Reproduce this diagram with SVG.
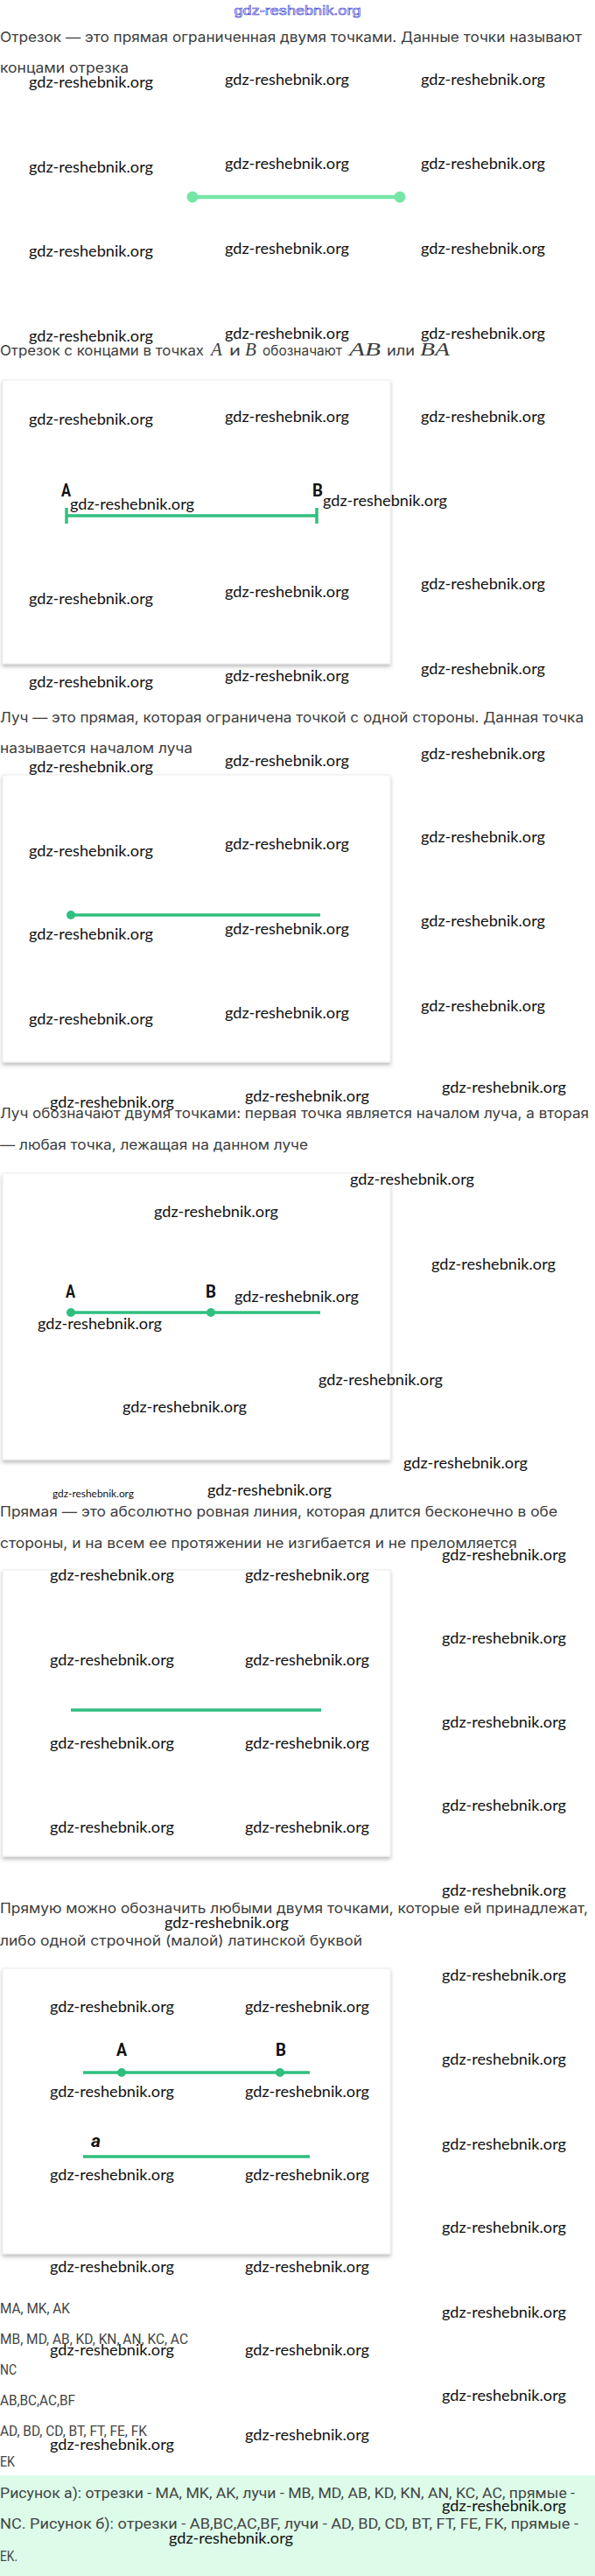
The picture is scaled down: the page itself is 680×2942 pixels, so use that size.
<svg xmlns="http://www.w3.org/2000/svg" width="680" height="2942" viewBox="0 0 680 2942">
<style>
.t{font-family:Inter,"Noto Sans",sans-serif;font-size:16px;fill:#3c3c3c}
.m{font-family:"Liberation Serif",serif;font-style:italic;font-size:21px;fill:#3c3c3c}
.wm{font-family:Lato,"Open Sans",sans-serif;font-size:18px;fill:#111}
.wms{font-family:Lato,"Open Sans",sans-serif;font-size:12px;fill:#111}
.c{font-family:Roboto,"Liberation Sans",sans-serif;font-size:17px;fill:#444}
.lbl{font-family:Roboto,"Liberation Sans",sans-serif;font-weight:700;font-size:21px;fill:#111}
.box{fill:#fff;stroke:#ececec;stroke-width:1}
.g{stroke:#2fbf7f;stroke-width:3.5;fill:none;stroke-linecap:butt}
.gd{fill:#2fbf7f}
.lg{stroke:#76e6a6;stroke-width:4.5;fill:none}
.lgd{fill:#76e6a6}
</style>
<defs>
<filter id="sh" x="-5%" y="-5%" width="110%" height="115%">
<feDropShadow dx="0" dy="3" stdDeviation="2" flood-color="#000" flood-opacity="0.25"/>
</filter>
</defs>
<rect width="680" height="2942" fill="#fff"/>

<text x="340" y="17" text-anchor="middle" font-family="'Liberation Sans',sans-serif" font-size="15" fill="#eeeeff" stroke="#3434d0" stroke-width="0.55" textLength="145" lengthAdjust="spacingAndGlyphs">gdz-reshebnik.org</text>

<g id="text-blocks">
<text class="t" x="0" y="48" textLength="665" lengthAdjust="spacingAndGlyphs">Отрезок — это прямая ограниченная двумя точками. Данные точки называют</text>
<text class="t" x="0" y="83" textLength="147" lengthAdjust="spacingAndGlyphs">концами отрезка</text>
<text class="t" x="0" y="406"><tspan textLength="233" lengthAdjust="spacingAndGlyphs">Отрезок с концами в точках</tspan><tspan class="m" x="241">A</tspan><tspan x="262" textLength="13" lengthAdjust="spacingAndGlyphs">и</tspan><tspan class="m" x="280">B</tspan><tspan x="300" textLength="91" lengthAdjust="spacingAndGlyphs">обозначают</tspan><tspan class="m" x="399" textLength="36" lengthAdjust="spacingAndGlyphs">AB</tspan><tspan x="442" textLength="32" lengthAdjust="spacingAndGlyphs">или</tspan><tspan class="m" x="480" textLength="34" lengthAdjust="spacingAndGlyphs">BA</tspan></text>
<text class="t" x="0" y="825" textLength="667" lengthAdjust="spacingAndGlyphs">Луч — это прямая, которая ограничена точкой с одной стороны. Данная точка</text>
<text class="t" x="0" y="860" textLength="220" lengthAdjust="spacingAndGlyphs">называется началом луча</text>
<text class="t" x="0" y="1277" textLength="673" lengthAdjust="spacingAndGlyphs">Луч обозначают двумя точками: первая точка является началом луча, а вторая</text>
<text class="t" x="0" y="1313" textLength="352" lengthAdjust="spacingAndGlyphs">— любая точка, лежащая на данном луче</text>
<text class="t" x="0" y="1732" textLength="637" lengthAdjust="spacingAndGlyphs">Прямая — это абсолютно ровная линия, которая длится бесконечно в обе</text>
<text class="t" x="0" y="1768" textLength="591" lengthAdjust="spacingAndGlyphs">стороны, и на всем ее протяжении не изгибается и не преломляется</text>
<text class="t" x="0" y="2185" textLength="672" lengthAdjust="spacingAndGlyphs">Прямую можно обозначить любыми двумя точками, которые ей принадлежат,</text>
<text class="t" x="0" y="2222" textLength="414" lengthAdjust="spacingAndGlyphs">либо одной строчной (малой) латинской буквой</text>
</g>

<g id="fig-segment">
<line class="lg" x1="220" y1="225" x2="457" y2="225"/>
<circle class="lgd" cx="220" cy="225" r="6.5"/>
<circle class="lgd" cx="457" cy="225" r="6.5"/>
</g>

<g id="fig-segment-ab">
<rect class="box" x="3" y="434" width="443" height="324" filter="url(#sh)"/>
<line class="g" x1="76" y1="589" x2="362" y2="589"/>
<line class="g" x1="76" y1="580" x2="76" y2="598" stroke-width="3"/>
<line class="g" x1="362" y1="580" x2="362" y2="598" stroke-width="3"/>
<text class="lbl" x="70" y="567" textLength="11" lengthAdjust="spacingAndGlyphs">A</text>
<text class="lbl" x="357" y="567" textLength="12" lengthAdjust="spacingAndGlyphs">B</text>
</g>

<g id="fig-ray">
<rect class="box" x="3" y="885" width="443" height="328" filter="url(#sh)"/>
<line class="g" x1="81" y1="1045" x2="366" y2="1045"/>
<circle class="gd" cx="81" cy="1045" r="5"/>
</g>

<g id="fig-ray-ab">
<rect class="box" x="3" y="1340" width="443" height="327" filter="url(#sh)"/>
<line class="g" x1="81" y1="1499" x2="366" y2="1499"/>
<circle class="gd" cx="81" cy="1499" r="5"/>
<circle class="gd" cx="241" cy="1499" r="5"/>
<text class="lbl" x="75" y="1482" textLength="11" lengthAdjust="spacingAndGlyphs">A</text>
<text class="lbl" x="235" y="1482" textLength="12" lengthAdjust="spacingAndGlyphs">B</text>
</g>

<g id="fig-line">
<rect class="box" x="3" y="1793" width="443" height="327" filter="url(#sh)"/>
<line class="g" x1="81" y1="1953" x2="367" y2="1953" stroke-width="3"/>
</g>

<g id="fig-line-named">
<rect class="box" x="3" y="2248" width="443" height="326" filter="url(#sh)"/>
<line class="g" x1="95" y1="2367" x2="354" y2="2367"/>
<circle class="gd" cx="139" cy="2367" r="5"/>
<circle class="gd" cx="320" cy="2367" r="5"/>
<text class="lbl" x="133" y="2348" textLength="12" lengthAdjust="spacingAndGlyphs">A</text>
<text class="lbl" x="315" y="2348" textLength="12" lengthAdjust="spacingAndGlyphs">B</text>
<line class="g" x1="95" y1="2463" x2="354" y2="2463"/>
<text class="lbl" x="104" y="2452" font-size="17" font-style="italic" textLength="11" lengthAdjust="spacingAndGlyphs">a</text>
</g>

<g id="answers">
<text class="c" x="0" y="2642" textLength="80" lengthAdjust="spacingAndGlyphs">MA, MK, AK</text>
<text class="c" x="0" y="2677" textLength="215" lengthAdjust="spacingAndGlyphs">MB, MD, AB, KD, KN, AN, KC, AC</text>
<text class="c" x="0" y="2712" textLength="19" lengthAdjust="spacingAndGlyphs">NC</text>
<text class="c" x="0" y="2747" textLength="86" lengthAdjust="spacingAndGlyphs">AB,BC,AC,BF</text>
<text class="c" x="0" y="2782" textLength="168" lengthAdjust="spacingAndGlyphs">AD, BD, CD, BT, FT, FE, FK</text>
<text class="c" x="0" y="2817" textLength="17" lengthAdjust="spacingAndGlyphs">EK</text>
<rect x="0" y="2827" width="680" height="115" fill="#dcfce9"/>
<text class="c" x="0" y="2853" textLength="657" lengthAdjust="spacingAndGlyphs">Рисунок а): отрезки - MA, MK, AK, лучи - MB, MD, AB, KD, KN, AN, KC, AC, прямые -</text>
<text class="c" x="0" y="2888" textLength="661" lengthAdjust="spacingAndGlyphs">NC. Рисунок б): отрезки - AB,BC,AC,BF, лучи - AD, BD, CD, BT, FT, FE, FK, прямые -</text>
<text class="c" x="0" y="2925" textLength="20" lengthAdjust="spacingAndGlyphs">EK.</text>
</g>

<g id="watermarks">
<text class="wm" x="33" y="100" textLength="142" lengthAdjust="spacingAndGlyphs">gdz-reshebnik.org</text>
<text class="wm" x="257" y="97" textLength="142" lengthAdjust="spacingAndGlyphs">gdz-reshebnik.org</text>
<text class="wm" x="481" y="97" textLength="142" lengthAdjust="spacingAndGlyphs">gdz-reshebnik.org</text>
<text class="wm" x="33" y="197" textLength="142" lengthAdjust="spacingAndGlyphs">gdz-reshebnik.org</text>
<text class="wm" x="257" y="193" textLength="142" lengthAdjust="spacingAndGlyphs">gdz-reshebnik.org</text>
<text class="wm" x="481" y="193" textLength="142" lengthAdjust="spacingAndGlyphs">gdz-reshebnik.org</text>
<text class="wm" x="33" y="293" textLength="142" lengthAdjust="spacingAndGlyphs">gdz-reshebnik.org</text>
<text class="wm" x="257" y="290" textLength="142" lengthAdjust="spacingAndGlyphs">gdz-reshebnik.org</text>
<text class="wm" x="481" y="290" textLength="142" lengthAdjust="spacingAndGlyphs">gdz-reshebnik.org</text>
<text class="wm" x="33" y="390" textLength="142" lengthAdjust="spacingAndGlyphs">gdz-reshebnik.org</text>
<text class="wm" x="257" y="387" textLength="142" lengthAdjust="spacingAndGlyphs">gdz-reshebnik.org</text>
<text class="wm" x="481" y="387" textLength="142" lengthAdjust="spacingAndGlyphs">gdz-reshebnik.org</text>

<text class="wm" x="33" y="485" textLength="142" lengthAdjust="spacingAndGlyphs">gdz-reshebnik.org</text>
<text class="wm" x="257" y="482" textLength="142" lengthAdjust="spacingAndGlyphs">gdz-reshebnik.org</text>
<text class="wm" x="481" y="482" textLength="142" lengthAdjust="spacingAndGlyphs">gdz-reshebnik.org</text>
<text class="wm" x="80" y="582" textLength="142" lengthAdjust="spacingAndGlyphs">gdz-reshebnik.org</text>
<text class="wm" x="369" y="578" textLength="142" lengthAdjust="spacingAndGlyphs">gdz-reshebnik.org</text>
<text class="wm" x="33" y="690" textLength="142" lengthAdjust="spacingAndGlyphs">gdz-reshebnik.org</text>
<text class="wm" x="257" y="682" textLength="142" lengthAdjust="spacingAndGlyphs">gdz-reshebnik.org</text>
<text class="wm" x="481" y="673" textLength="142" lengthAdjust="spacingAndGlyphs">gdz-reshebnik.org</text>
<text class="wm" x="33" y="785" textLength="142" lengthAdjust="spacingAndGlyphs">gdz-reshebnik.org</text>
<text class="wm" x="257" y="778" textLength="142" lengthAdjust="spacingAndGlyphs">gdz-reshebnik.org</text>
<text class="wm" x="481" y="770" textLength="142" lengthAdjust="spacingAndGlyphs">gdz-reshebnik.org</text>

<text class="wm" x="33" y="882" textLength="142" lengthAdjust="spacingAndGlyphs">gdz-reshebnik.org</text>
<text class="wm" x="257" y="875" textLength="142" lengthAdjust="spacingAndGlyphs">gdz-reshebnik.org</text>
<text class="wm" x="481" y="867" textLength="142" lengthAdjust="spacingAndGlyphs">gdz-reshebnik.org</text>
<text class="wm" x="33" y="978" textLength="142" lengthAdjust="spacingAndGlyphs">gdz-reshebnik.org</text>
<text class="wm" x="257" y="970" textLength="142" lengthAdjust="spacingAndGlyphs">gdz-reshebnik.org</text>
<text class="wm" x="481" y="962" textLength="142" lengthAdjust="spacingAndGlyphs">gdz-reshebnik.org</text>
<text class="wm" x="33" y="1073" textLength="142" lengthAdjust="spacingAndGlyphs">gdz-reshebnik.org</text>
<text class="wm" x="257" y="1067" textLength="142" lengthAdjust="spacingAndGlyphs">gdz-reshebnik.org</text>
<text class="wm" x="481" y="1058" textLength="142" lengthAdjust="spacingAndGlyphs">gdz-reshebnik.org</text>
<text class="wm" x="33" y="1170" textLength="142" lengthAdjust="spacingAndGlyphs">gdz-reshebnik.org</text>
<text class="wm" x="257" y="1163" textLength="142" lengthAdjust="spacingAndGlyphs">gdz-reshebnik.org</text>
<text class="wm" x="481" y="1155" textLength="142" lengthAdjust="spacingAndGlyphs">gdz-reshebnik.org</text>
<text class="wm" x="57" y="1265" textLength="142" lengthAdjust="spacingAndGlyphs">gdz-reshebnik.org</text>
<text class="wm" x="280" y="1258" textLength="142" lengthAdjust="spacingAndGlyphs">gdz-reshebnik.org</text>
<text class="wm" x="505" y="1248" textLength="142" lengthAdjust="spacingAndGlyphs">gdz-reshebnik.org</text>

<text class="wm" x="400" y="1353" textLength="142" lengthAdjust="spacingAndGlyphs">gdz-reshebnik.org</text>
<text class="wm" x="176" y="1390" textLength="142" lengthAdjust="spacingAndGlyphs">gdz-reshebnik.org</text>
<text class="wm" x="493" y="1450" textLength="142" lengthAdjust="spacingAndGlyphs">gdz-reshebnik.org</text>
<text class="wm" x="268" y="1487" textLength="142" lengthAdjust="spacingAndGlyphs">gdz-reshebnik.org</text>
<text class="wm" x="43" y="1518" textLength="142" lengthAdjust="spacingAndGlyphs">gdz-reshebnik.org</text>
<text class="wm" x="364" y="1582" textLength="142" lengthAdjust="spacingAndGlyphs">gdz-reshebnik.org</text>
<text class="wm" x="140" y="1613" textLength="142" lengthAdjust="spacingAndGlyphs">gdz-reshebnik.org</text>
<text class="wm" x="461" y="1677" textLength="142" lengthAdjust="spacingAndGlyphs">gdz-reshebnik.org</text>
<text class="wms" x="60" y="1710" textLength="93" lengthAdjust="spacingAndGlyphs">gdz-reshebnik.org</text>
<text class="wm" x="237" y="1708" textLength="142" lengthAdjust="spacingAndGlyphs">gdz-reshebnik.org</text>

<text class="wm" x="505" y="1782" textLength="142" lengthAdjust="spacingAndGlyphs">gdz-reshebnik.org</text>
<text class="wm" x="57" y="1805" textLength="142" lengthAdjust="spacingAndGlyphs">gdz-reshebnik.org</text>
<text class="wm" x="280" y="1805" textLength="142" lengthAdjust="spacingAndGlyphs">gdz-reshebnik.org</text>
<text class="wm" x="505" y="1877" textLength="142" lengthAdjust="spacingAndGlyphs">gdz-reshebnik.org</text>
<text class="wm" x="57" y="1902" textLength="142" lengthAdjust="spacingAndGlyphs">gdz-reshebnik.org</text>
<text class="wm" x="280" y="1902" textLength="142" lengthAdjust="spacingAndGlyphs">gdz-reshebnik.org</text>
<text class="wm" x="505" y="1973" textLength="142" lengthAdjust="spacingAndGlyphs">gdz-reshebnik.org</text>
<text class="wm" x="57" y="1997" textLength="142" lengthAdjust="spacingAndGlyphs">gdz-reshebnik.org</text>
<text class="wm" x="280" y="1997" textLength="142" lengthAdjust="spacingAndGlyphs">gdz-reshebnik.org</text>
<text class="wm" x="505" y="2068" textLength="142" lengthAdjust="spacingAndGlyphs">gdz-reshebnik.org</text>
<text class="wm" x="57" y="2093" textLength="142" lengthAdjust="spacingAndGlyphs">gdz-reshebnik.org</text>
<text class="wm" x="280" y="2093" textLength="142" lengthAdjust="spacingAndGlyphs">gdz-reshebnik.org</text>
<text class="wm" x="505" y="2165" textLength="142" lengthAdjust="spacingAndGlyphs">gdz-reshebnik.org</text>

<text class="wm" x="188" y="2202" textLength="142" lengthAdjust="spacingAndGlyphs">gdz-reshebnik.org</text>
<text class="wm" x="505" y="2262" textLength="142" lengthAdjust="spacingAndGlyphs">gdz-reshebnik.org</text>
<text class="wm" x="57" y="2298" textLength="142" lengthAdjust="spacingAndGlyphs">gdz-reshebnik.org</text>
<text class="wm" x="280" y="2298" textLength="142" lengthAdjust="spacingAndGlyphs">gdz-reshebnik.org</text>
<text class="wm" x="505" y="2358" textLength="142" lengthAdjust="spacingAndGlyphs">gdz-reshebnik.org</text>
<text class="wm" x="57" y="2395" textLength="142" lengthAdjust="spacingAndGlyphs">gdz-reshebnik.org</text>
<text class="wm" x="280" y="2395" textLength="142" lengthAdjust="spacingAndGlyphs">gdz-reshebnik.org</text>
<text class="wm" x="505" y="2455" textLength="142" lengthAdjust="spacingAndGlyphs">gdz-reshebnik.org</text>
<text class="wm" x="57" y="2490" textLength="142" lengthAdjust="spacingAndGlyphs">gdz-reshebnik.org</text>
<text class="wm" x="280" y="2490" textLength="142" lengthAdjust="spacingAndGlyphs">gdz-reshebnik.org</text>
<text class="wm" x="505" y="2550" textLength="142" lengthAdjust="spacingAndGlyphs">gdz-reshebnik.org</text>

<text class="wm" x="57" y="2595" textLength="142" lengthAdjust="spacingAndGlyphs">gdz-reshebnik.org</text>
<text class="wm" x="280" y="2595" textLength="142" lengthAdjust="spacingAndGlyphs">gdz-reshebnik.org</text>
<text class="wm" x="505" y="2647" textLength="142" lengthAdjust="spacingAndGlyphs">gdz-reshebnik.org</text>
<text class="wm" x="57" y="2690" textLength="142" lengthAdjust="spacingAndGlyphs">gdz-reshebnik.org</text>
<text class="wm" x="280" y="2690" textLength="142" lengthAdjust="spacingAndGlyphs">gdz-reshebnik.org</text>
<text class="wm" x="505" y="2742" textLength="142" lengthAdjust="spacingAndGlyphs">gdz-reshebnik.org</text>
<text class="wm" x="280" y="2787" textLength="142" lengthAdjust="spacingAndGlyphs">gdz-reshebnik.org</text>
<text class="wm" x="57" y="2798" textLength="142" lengthAdjust="spacingAndGlyphs">gdz-reshebnik.org</text>
<text class="wm" x="505" y="2868" textLength="142" lengthAdjust="spacingAndGlyphs">gdz-reshebnik.org</text>
<text class="wm" x="193" y="2905" textLength="142" lengthAdjust="spacingAndGlyphs">gdz-reshebnik.org</text>
</g>
</svg>
